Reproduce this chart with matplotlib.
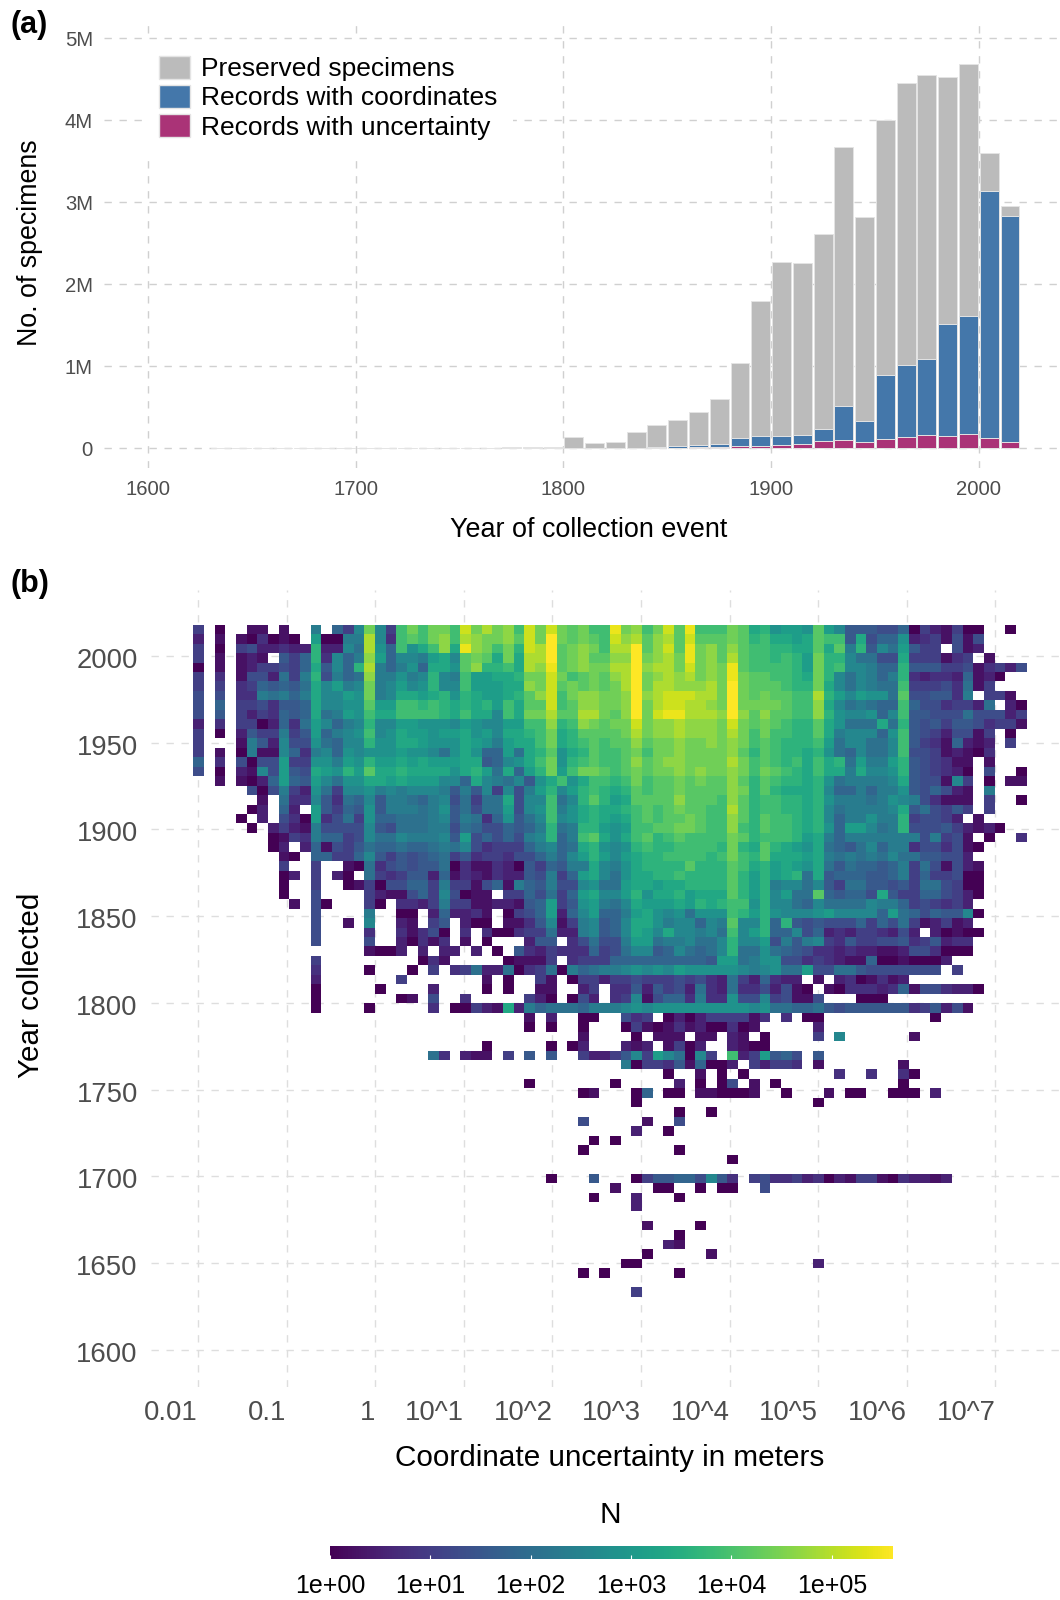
import numpy as np
import matplotlib
matplotlib.use('Agg')
import matplotlib.pyplot as plt
from matplotlib.patches import Patch
from matplotlib.cm import ScalarMappable
from matplotlib.colors import Normalize
from matplotlib.transforms import ScaledTranslation

plt.rcParams['font.family'] = ['Liberation Sans', 'DejaVu Sans']

# panel (a): millions of records per decade
decades = [1635, 1645, 1655, 1665, 1675, 1685, 1695, 1705, 1715, 1725, 1735, 1745, 1755,
           1765, 1775, 1785, 1795, 1805, 1815, 1825, 1835, 1845, 1855, 1865, 1875, 1885,
           1895, 1905, 1915, 1925, 1935, 1945, 1955, 1965, 1975, 1985, 1995, 2005, 2015]
preserved = [0.0002, 0.0002, 0.0002, 0.0003, 0.0003, 0.0004, 0.002, 0.003, 0.003, 0.004, 0.005, 0.006, 0.008,
             0.009, 0.01, 0.012, 0.02, 0.14, 0.06, 0.08, 0.2, 0.28, 0.35, 0.44, 0.60, 1.045,
             1.80, 2.276, 2.256, 2.61, 3.68, 2.82, 4.0, 4.45, 4.55, 4.53, 4.687, 3.6, 2.96]
with_coords = [0.0001, 0.0001, 0.0001, 0.0001, 0.0001, 0.0001, 0.001, 0.001, 0.001, 0.001, 0.001, 0.002, 0.002,
               0.003, 0.003, 0.004, 0.006, 0.004, 0.003, 0.004, 0.006, 0.01, 0.025, 0.04, 0.053, 0.12,
               0.146, 0.146, 0.163, 0.236, 0.51, 0.33, 0.894, 1.02, 1.09, 1.516, 1.61, 3.14, 2.83]
with_uncert = [0, 0, 0, 0, 0, 0, 0.0005, 0.0005, 0.0005, 0.0005, 0.0005, 0.001, 0.001,
               0.001, 0.001, 0.002, 0.002, 0.002, 0.001, 0.002, 0.002, 0.004, 0.006, 0.01, 0.016, 0.028,
               0.033, 0.04, 0.057, 0.09, 0.10, 0.077, 0.114, 0.14, 0.16, 0.15, 0.17, 0.12, 0.08]
a_xticks = [1600, 1700, 1800, 1900, 2000]
a_yticks = [0, 1, 2, 3, 4, 5]
a_ylabels = ['0', '1M', '2M', '3M', '4M', '5M']

# panel (b): one string per year bin (top row first), one char per uncertainty bin
# char is base 36, log10(N) = value * 0.26, '.' means no records
heat_rows = [
    "4.0..11.1. .9.74aha4f hfhhfkhjhi fkhkhghffl hifhkglfff hgdebccbgc a666557042 1400..0.",
    "2.1.103010 .c0099ja3f gfhifjihhi gkhmhghgfk ijgijgkggg hgefddcdgf f6d577b234 1515....",
    "4.0.452232 2e22a8jb7f bdfidlihfh ekjnghihfj jmgikglhig igffeeddgd g9e6a8c644 .512....",
    "4.1.121.64 7e3a79ic7a a9cdaghgdh djjmghiggi imhijhlhig jgffefeche ea8855d444 134.1...",
    "0.1.124454 7d6a7ej979 b7ddbgieef djilghihhj jnijjhkhih lgffffeche faa977e666 44513425",
    "4.3.155284 9e5978i99b 9aea9fccdd ehhkhfghgi jnhijijhih lhggffedhe a8a979e323 327120..",
    "4.4.347676 8dac9ah9ac abeaafcccd dihkghghgh jnhjjiiijh mhgggfeehd a8a988f444 53814...",
    "5.5.339897 9daacbh9ad dcdebedccd egikfhiihh inijkkkjjh mhghggffje cacbb8g556 639.441.",
    "5.7.445366 7daabbgccf fefededecf dggkfgiihh inhjkkjjih mhhhhgffid a89877f755 34428.20",
    "5.6.424376 7d89cbfddf fffedfddaf dhhjggjjhg imhklljjji migiggffie baab7af665 55855524",
    "2.3.440273 8ca79aeaac cbbbacbaac cffiefihgh hkhiijiiih khghgfeegd b888d8e656 46653441",
    "4.0.264494 6c79abfabd ccbccdbcad defhdegggg hjhiijiiih jhfhffeegd 9aaa7bf654 25514.0.",
    "4...1962a5 5b87aaebbd dcbbbdcb9c ddfhdefgfg gighhihhih ihfgfeeefc 8aa88af643 17212.4.",
    "4.1.0911a7 39a7babbbc bba8bdb77c 8degbdegff ghfhhihhhh igegfeedeb 87a88af554 12103...",
    "7.3.5055c4 4bb9cbeccd cdcccdd67a bdfhbefgff gighiihhhh jhfgfefdfd e8c99ce654 311.1...",
    "5.0.21a5c6 5dcbecgdde ddddbdec8d 7cehcfhhgf ghghhihihh ihfhgfedfd d9daabe654 320.5..0",
    "..1.1027c7 6ca8bbddcd cccaa7da98 a6bdfbdffe fhfgghghgg igegfeedeb 89999ad655 1a4.0.11",
    ".....50594 2b84aab9a9 aaa9696a4a 59ceacefed egfgghgggg ihegedddea 779799b657 521.9...",
    "......1.83 3a6387a699 879a58488d 5aaf8aegec dggggigggf igeffeedeb 99989ba953 111.4..0",
    ".....02.72 .c6476b699 989b68588c 5abf9bdedd efgfghggff jgeffeedea 89999ad685 464.4...",
    "....0.2.53 0c3584b778 889a69837b 68afabdedc dfgfgghgff igegffedea 799b99e455 42.1....",
    ".....0.242 195555a658 8899587557 679e89eecb cffgghhgff ifegffedeb 7cca89e555 642120..",
    ".......014 397745a88a 999a6c5757 59ae79fgdb dfgefgffff hgefffecd9 7999999959 451.0..3",
    ".......02. 2715468778 77898a5344 479a78deba befeeffffe hedgedcbd8 768a799355 3510....",
    "........10 .77447a646 5678463443 55797aceca cdeeffffef hfegdddcd9 89898a8866 552.....",
    "........4. .4..108356 5668031132 0647699da9 bdeeeegeee gfdecdcbd8 6877679485 1521....",
    "........02 .4.20.8434 6627132132 265947cda8 bddeefeeee gececde8d6 7776679474 4500....",
    "........0. .4..014055 7749441571 976955ab88 cddcddeeee gece9aa8a6 4886656488 5400....",
    "........0. .5....4211 574a5011.4 475847cdaa cebddecddd geceac88g7 6775d64477 5420....",
    ".........1 .50...40.3 3249441122 167c46bc98 adcccdcede ffbeaa87a8 888a997454 342.....",
    ".......... .5....9..0 0.272231.0 457c27ac77 9cdbab8bbb fecebaaabc aaaa7c8757 66a0....",
    ".......... .5..1.a..2 1.46.200.1 136a149a67 addb9aa7a9 gaae7e6565 5574758412 412.....",
    ".......... .5....3..3 1350.3.300 3448229a67 adcadaa9a8 face77a572 32443252.2 0100....",
    ".......... .5....5..2 0313.1.0.. .266.35855 9cc899a88a eaac5969a4 3644556346 233.....",
    ".......... ......1002 .2.22.2.0. 6324333745 8aa67a878a e88b876533 2322112553 000.....",
    ".......... .4........ .031.....0 1114.34447 777777776c c89bb55343 2117001000 2.......",
    ".......... .3....0... 0.4.348228 0348097899 ababacbbbb ba9ab88c55 8865555555 .4......",
    ".......... .2.......4 .......1.0 ..41.04424 4544454532 8427322.1. 2301312... ........",
    ".......... .0.....0.. ..2....0.0 ..11..24.3 3626452832 83352510.1 0333237155 3220....",
    ".......... .0.......0 1.5..3.... .420.052.3 4a15773933 b55a45115. ..000..... ........",
    ".......... .0....0... ..3.00421d 2978887999 ababbbbbbb bbab887786 5666666346 251.....",
    ".......... .......... .......... .1.2..00.. 534.020244 4413.3.00. .........0 ........",
    ".......... .......... .......... .0.0..0... 0410131200 301.....2. .......... ........",
    ".......... .......... .......... ......1... .0.111.11. 21.0....4. a......1.. ........",
    ".......... .......... .......0.. ...0.02... 212.1402.. 2100...... .......... ........",
    ".......... .......... ..83.211.4 .6.6..4224 6a4ca80a4. f24c675.6. .......... ........",
    ".......... .......... .......... .......... 9044361700 2.42443.1. ......1... ........",
    ".......... .......... .......... .......... ....0..1.0 .0........ 3..3..30.. ........",
    ".......... .......... .......... .0.......0 .....2.0.0 5.1.0..... ......0... ........",
    ".......... .......... .......... ......01.. .07.00.110 001..0...1 .00..000.2 ........",
    ".......... .......... .......... .......... .0........ ........0. .......... ........",
    ".......... .......... .......... .......... .....0..0. .......... .......... ........",
    ".......... .......... .......... ......5... ..1..5.... .......... .......... ........",
    ".......... .......... .......... .......... .2..0..... .......... .......... ........",
    ".......... .......... .......... .......0.0 .......... .......... .......... ........",
    ".......... .......... .......... ......0... .....0.... .......... .......... ........",
    ".......... .......... .......... .......... .......... 0......... .......... ........",
    ".......... .......... .......... .......... .......... .......... .......... ........",
    ".......... .......... .......... ...0...6.. .0466775a6 3.45334230 2144103221 2.......",
    ".......... .......... .......... .........1 ...00..0.0 0..5...... .......... ........",
    ".......... .......... .......... .......0.. .2...0.... .......... .......... ........",
    ".......... .......... .......... .......... .2........ .......... .......... ........",
    ".......... .......... .......... .......... .......... .......... .......... ........",
    ".......... .......... .......... .......... ..1....0.. .......... .......... ........",
    ".......... .......... .......... .......... .....0.... .......... .......... ........",
    ".......... .......... .......... .......... ....21.... .......... .......... ........",
    ".......... .......... .......... .......... ..0.....1. .......... .......... ........",
    ".......... .......... .......... .......... 00........ ........2. .......... ........",
    ".......... .......... .......... ......0.0. .....0.... .......... .......... ........",
    ".......... .......... .......... .......... .......... .......... .......... ........",
    ".......... .......... .......... .......... .4........ .......... .......... ........",
]
b_xticks = [-2, -1, 0, 1, 2, 3, 4, 5, 6, 7]
b_xlabels = ['0.01', '0.1', '1', '10^1', '10^2', '10^3', '10^4', '10^5', '10^6', '10^7']
b_yticks = [1600, 1650, 1700, 1750, 1800, 1850, 1900, 1950, 2000]
cbar_ticks = [0, 1, 2, 3, 4, 5]
cbar_labels = ['1e+00', '1e+01', '1e+02', '1e+03', '1e+04', '1e+05']

W, H = 1060, 1600
TICK = '#4d4d4d'


def px_axes(fig, x0, y0, x1, y1):
    # axes from pixel box, y counted from the top of the image
    return fig.add_axes([x0 / W, 1 - y1 / H, (x1 - x0) / W, (y1 - y0) / H])


def parse_heat(rows):
    grid = []
    for row in rows:
        cells = row.replace(' ', '')
        if len(cells) != 78:
            print('bad row length', len(cells), row)
        grid.append([np.nan if c == '.' else int(c, 36) * 0.26 for c in cells])
    return np.array(grid)


def style_axes(ax, grid_color):
    for s in ax.spines.values():
        s.set_visible(False)
    ax.set_axisbelow(True)
    ax.grid(True, color=grid_color, linewidth=1.0, linestyle=(0, (5.3, 5.5)))
    ax.tick_params(length=0)


fig = plt.figure(figsize=(W / 100, H / 100), dpi=100)

# panel (a)
ax1 = px_axes(fig, 104, 18, 1058, 468)
style_axes(ax1, '#d0d0d0')
bar_kw = dict(width=9.1, edgecolor='#e4e4e4', linewidth=0.7)
ax1.bar(decades, preserved, color='#BBBBBB', **bar_kw)
ax1.bar(decades, with_coords, color='#4477AA', **bar_kw)
ax1.bar(decades, with_uncert, color='#AA3377', **bar_kw)
ax1.set_xlim(1578.8, 2038.1)
ax1.set_ylim(-0.24, 5.247)
ax1.set_xticks(a_xticks)
ax1.set_yticks(a_yticks)
ax1.set_yticklabels(a_ylabels)
ax1.tick_params(labelsize=14.6, labelcolor=TICK, pad=8)
ax1.tick_params(axis='x', pad=8.5)
handles = [Patch(facecolor='#BBBBBB', edgecolor='#e4e4e4', label='Preserved specimens'),
           Patch(facecolor='#4477AA', edgecolor='#e4e4e4', label='Records with coordinates'),
           Patch(facecolor='#AA3377', edgecolor='#e4e4e4', label='Records with uncertainty')]
leg = ax1.legend(handles=handles, loc='upper left', bbox_to_anchor=(143 / W, 1 - 40 / H),
                 bbox_transform=fig.transFigure, borderaxespad=0, fontsize=19,
                 frameon=True, facecolor='white', edgecolor='none', framealpha=1, fancybox=False,
                 handlelength=1.18, handleheight=0.95, handletextpad=0.4, labelspacing=0.14,
                 borderpad=0.6)
fig.text(589 / W, 1 - 530 / H, 'Year of collection event', fontsize=19.4, ha='center', va='center')
fig.text(30 / W, 1 - 243 / H, 'No. of specimens', fontsize=19.3, ha='center', va='center', rotation=90)

# panel (b)
ax2 = px_axes(fig, 151, 590, 1059, 1387)
style_axes(ax2, '#dedede')
heat = parse_heat(heat_rows)
x_edges = np.linspace(-2.053, 7.353, heat.shape[1] + 1)
y_edges = np.linspace(2018.0, 1630.6, heat.shape[0] + 1)
mesh = ax2.pcolormesh(x_edges, y_edges, heat, cmap='viridis', vmin=0, vmax=5.63, linewidth=0)
ax2.set_xlim(-2.530, 7.718)
ax2.set_ylim(1578.5, 2038.0)
ax2.set_xticks(b_xticks)
ax2.set_xticklabels(b_xlabels, ha='right')
ax2.set_yticks(b_yticks)
ax2.tick_params(labelsize=19.8, labelcolor=TICK, pad=9.5)
ax2.tick_params(axis='x', pad=9)
for lbl in ax2.get_yticklabels():
    lbl.set_transform(lbl.get_transform() + ScaledTranslation(0, -0.02, fig.dpi_scale_trans))
fig.text(610 / W, 1 - 1458 / H, 'Coordinate uncertainty in meters', fontsize=21.4, ha='center', va='center')
fig.text(31 / W, 1 - 985 / H, 'Year collected', fontsize=21.3, ha='center', va='center', rotation=90)

fig.text(10 / W, 1 - 25 / H, '(a)', fontsize=22, fontweight='bold', ha='left', va='center')
fig.text(10 / W, 1 - 584 / H, '(b)', fontsize=22, fontweight='bold', ha='left', va='center')

# colour legend
cax = px_axes(fig, 330, 1546, 893, 1559)
cb = fig.colorbar(ScalarMappable(Normalize(0, 5.61), 'viridis'), cax=cax, orientation='horizontal')
cb.outline.set_visible(False)
cb.set_ticks(cbar_ticks)
cb.set_ticklabels(cbar_labels)
cax.tick_params(length=3, width=0.8, color='white', direction='in', labelsize=18, labelcolor='black', pad=11)
fig.text(610 / W, 1 - 1515 / H, 'N', fontsize=21.5, ha='center', va='center')

fig.savefig('out.png', dpi=100)
